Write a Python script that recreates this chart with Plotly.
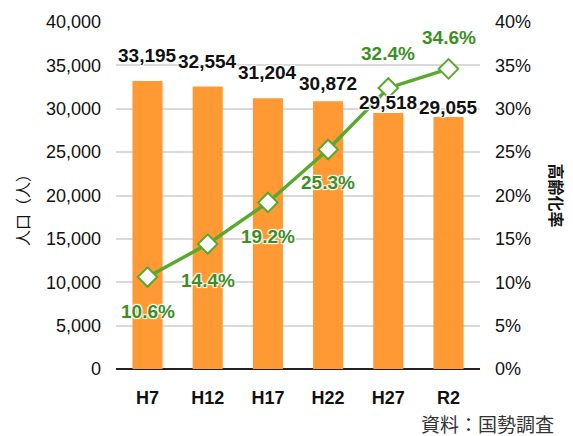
import plotly.graph_objects as go

categories = ["H7", "H12", "H17", "H22", "H27", "R2"]
population = [33195, 32554, 31204, 30872, 29518, 29055]
aging_rate = [0.106, 0.144, 0.192, 0.253, 0.324, 0.346]

# label placement styling (pixel shifts)
pop_label_shift = [26, 25, 26, 18, 10, 9]
rate_label_shift = [-34, -36, -34, -33, 34, 31]

BAR = "#FF9933"
LINE = "#58A92E"
LABEL_GREEN = "#3E8E27"
NUM_FONT = "Liberation Sans, Arial, sans-serif"
JP_FONT = "Noto Sans CJK JP, sans-serif"
HALO = "1px 1px 1px white, -1px -1px 1px white, 1px -1px 1px white, -1px 1px 1px white"

fig = go.Figure()
fig.add_trace(go.Bar(x=categories, y=population, marker=dict(color=BAR, line=dict(width=0)),
                     width=0.5, yaxis="y", hoverinfo="skip"))
fig.add_trace(go.Scatter(x=categories, y=aging_rate, yaxis="y2", mode="lines+markers",
                         line=dict(color=LINE, width=3.5),
                         marker=dict(symbol="diamond", size=15, color="white",
                                     line=dict(color=LINE, width=2))))

annotations = []
for c, v, s in zip(categories, population, pop_label_shift):
    annotations.append(dict(x=c, y=v, xref="x", yref="y", text=f"{v:,}", showarrow=False,
                            yshift=s, yanchor="middle",
                            font=dict(family=NUM_FONT, size=19, color="#111111", weight="bold",
                                      shadow=HALO)))
for c, v, s in zip(categories, aging_rate, rate_label_shift):
    annotations.append(dict(x=c, y=v, xref="x", yref="y2", text=f"{v*100:.1f}%", showarrow=False,
                            yshift=s, yanchor="middle",
                            font=dict(family=NUM_FONT, size=19, color=LABEL_GREEN, weight="bold",
                                      shadow=HALO)))
annotations.append(dict(x=-0.258, y=0.47, xref="paper", yref="paper", text="人口（人）",
                        showarrow=False, textangle=-90, xanchor="center", yanchor="middle",
                        font=dict(family=JP_FONT, size=16, color="#111111")))
annotations.append(dict(x=1.214, y=0.5, xref="paper", yref="paper", text="高齢化率",
                        showarrow=False, textangle=90, xanchor="center", yanchor="middle",
                        font=dict(family=JP_FONT, size=16, color="#111111", weight="bold")))
annotations.append(dict(x=1.21, y=-0.157, xref="paper", yref="paper", text="資料：国勢調査",
                        showarrow=False, xanchor="right", yanchor="middle",
                        font=dict(family=JP_FONT, size=19, color="#333333")))

fig.update_layout(
    width=573, height=436,
    margin=dict(l=116, r=93, t=15, b=67),
    plot_bgcolor="white", paper_bgcolor="white",
    showlegend=False,
    xaxis=dict(type="category", showgrid=False, showline=False, ticks="",
               tickfont=dict(family=NUM_FONT, size=18, color="#111111", weight="bold"),
               ticklabelstandoff=16),
    yaxis=dict(range=[0, 40000], dtick=5000, tickformat=",d", showgrid=True,
               gridcolor="#D9D9D9", gridwidth=1.5, zeroline=True, zerolinecolor="#222222",
               zerolinewidth=1.5, showline=False, ticks="",
               tickfont=dict(family=NUM_FONT, size=18, color="#111111"),
               ticklabelstandoff=14),
    yaxis2=dict(range=[0, 0.4], dtick=0.05, tickformat=".0%", overlaying="y", side="right",
                showgrid=False, zeroline=False, showline=False, ticks="",
                tickfont=dict(family=NUM_FONT, size=18, color="#111111"),
                ticklabelstandoff=14),
    annotations=annotations,
)

fig.write_html("out.html", config={"displayModeBar": False},
               post_script="document.body.style.margin='0px';")
